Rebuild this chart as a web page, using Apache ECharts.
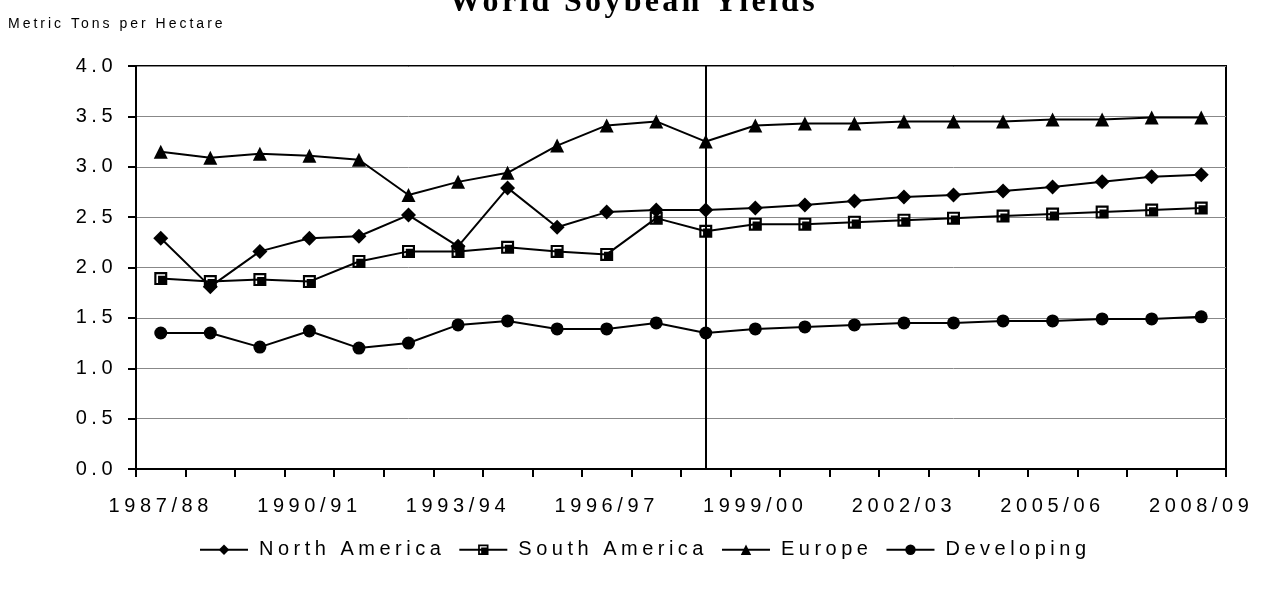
<!DOCTYPE html>
<html>
<head>
<meta charset="utf-8">
<script src="https://cdn.jsdelivr.net/npm/echarts@6/dist/echarts.min.js"></script>
<style>
html,body{margin:0;padding:0;background:#fff;}
#chart{width:1267px;height:589px;}
</style>
</head>
<body>
<div id="chart"></div>
<script>
const categories = ['1987/88','1988/89','1989/90','1990/91','1991/92','1992/93','1993/94','1994/95','1995/96','1996/97','1997/98','1998/99','1999/00','2000/01','2001/02','2002/03','2003/04','2004/05','2005/06','2006/07','2007/08','2008/09'];
const northAmerica = [2.29,1.81,2.16,2.29,2.31,2.52,2.21,2.79,2.40,2.55,2.57,2.57,2.59,2.62,2.66,2.70,2.72,2.76,2.80,2.85,2.90,2.92];
const southAmerica = [1.89,1.86,1.88,1.86,2.06,2.16,2.16,2.20,2.16,2.13,2.49,2.36,2.43,2.43,2.45,2.47,2.49,2.51,2.53,2.55,2.57,2.59];
const europe = [3.15,3.09,3.13,3.11,3.07,2.72,2.85,2.94,3.21,3.41,3.45,3.25,3.41,3.43,3.43,3.45,3.45,3.45,3.47,3.47,3.49,3.49];
const developing = [1.35,1.35,1.21,1.37,1.20,1.25,1.43,1.47,1.39,1.39,1.45,1.35,1.39,1.41,1.43,1.45,1.45,1.47,1.47,1.49,1.49,1.51];
const projectionStart = '1998/99';
const yTicks = {min: 0, max: 4, interval: 0.5};

// Letter spacing per text role (keyed by the first font family name used for that role)
const spacingRules = [['Arimo', 3], ['Liberation Serif', 3.3], ['Helvetica', 4.5], ['Arial', 4.5], ['Liberation Sans', 4.6]];
(function () {
  const proto = CanvasRenderingContext2D.prototype;
  const desc = Object.getOwnPropertyDescriptor(proto, 'font');
  if (!desc || !('letterSpacing' in proto)) return;
  Object.defineProperty(proto, 'font', {
    configurable: true,
    get() { return desc.get.call(this); },
    set(v) {
      desc.set.call(this, v);
      let ls = 0;
      for (const [k, s] of spacingRules) { if (String(v).includes(k)) { ls = s; break; } }
      this.letterSpacing = ls + 'px';
    }
  });
})();

const squareSym = 'path://M0 0 L12 0 L12 12 L0 12 Z M2 2 L2 10 L3.5 10 L3.5 3.5 L10 3.5 L10 2 Z';

function lineSeries(name, data, symbol, size) {
  return {
    name, type: 'line', data, symbol, symbolSize: size,
    showSymbol: true,
    lineStyle: {color: '#000', width: 2},
    itemStyle: {color: '#000', borderColor: '#000', borderWidth: 0},
    animation: false
  };
}

const series = [
  lineSeries('North America', northAmerica, 'diamond', 15),
  lineSeries('South America', southAmerica, squareSym, 13),
  lineSeries('Europe', europe, 'triangle', 14),
  lineSeries('Developing', developing, 'circle', 13)
];
series[0].markLine = {
  silent: true, symbol: 'none', animation: false,
  label: {show: false},
  lineStyle: {color: '#000', width: 2, type: 'solid'},
  data: [{xAxis: projectionStart}]
};

const chart = echarts.init(document.getElementById('chart'), null, {renderer: 'canvas'});
chart.setOption({
  backgroundColor: '#fff',
  animation: false,
  title: [
    {text: 'World Soybean Yields', left: 'center', top: -20,
     textStyle: {fontFamily: '"Liberation Serif", serif', fontWeight: 'bold', fontSize: 32, color: '#000'}},
    {text: 'Metric Tons per Hectare', left: 3, top: 11,
     textStyle: {fontFamily: '"Arimo", "Liberation Sans", sans-serif', fontWeight: 'normal', fontSize: 14, color: '#000'}}
  ],
  grid: {left: 136, right: 41, top: 66, bottom: 120, show: true, borderColor: '#000', borderWidth: 2, backgroundColor: 'transparent'},
  legend: {
    bottom: 22, left: 194, itemGap: 13, itemWidth: 48, itemHeight: 13,
    textStyle: {fontFamily: 'Helvetica, "Liberation Sans", sans-serif', fontSize: 20, color: '#000', padding: [0, 0, 0, 6]},
    data: ['North America','South America','Europe','Developing']
  },
  xAxis: {
    type: 'category', data: categories, boundaryGap: true,
    axisLine: {lineStyle: {color: '#000', width: 2}},
    axisTick: {show: true, interval: 0, length: 8, lineStyle: {color: '#000', width: 2}},
    axisLabel: {interval: 2, margin: 25, fontFamily: '"Liberation Sans", sans-serif', fontSize: 20, color: '#000'},
    splitLine: {show: false}
  },
  yAxis: {
    type: 'value', min: yTicks.min, max: yTicks.max, interval: yTicks.interval,
    axisLine: {show: true, lineStyle: {color: '#000', width: 2}},
    axisTick: {show: true, length: 8, lineStyle: {color: '#000', width: 2}},
    axisLabel: {margin: 19, fontFamily: 'Arial, "Liberation Sans", sans-serif', fontSize: 20, color: '#000', formatter: v => v.toFixed(1)},
    splitLine: {show: true, lineStyle: {color: '#888', width: 1}}
  },
  series
});
</script>
</body>
</html>
